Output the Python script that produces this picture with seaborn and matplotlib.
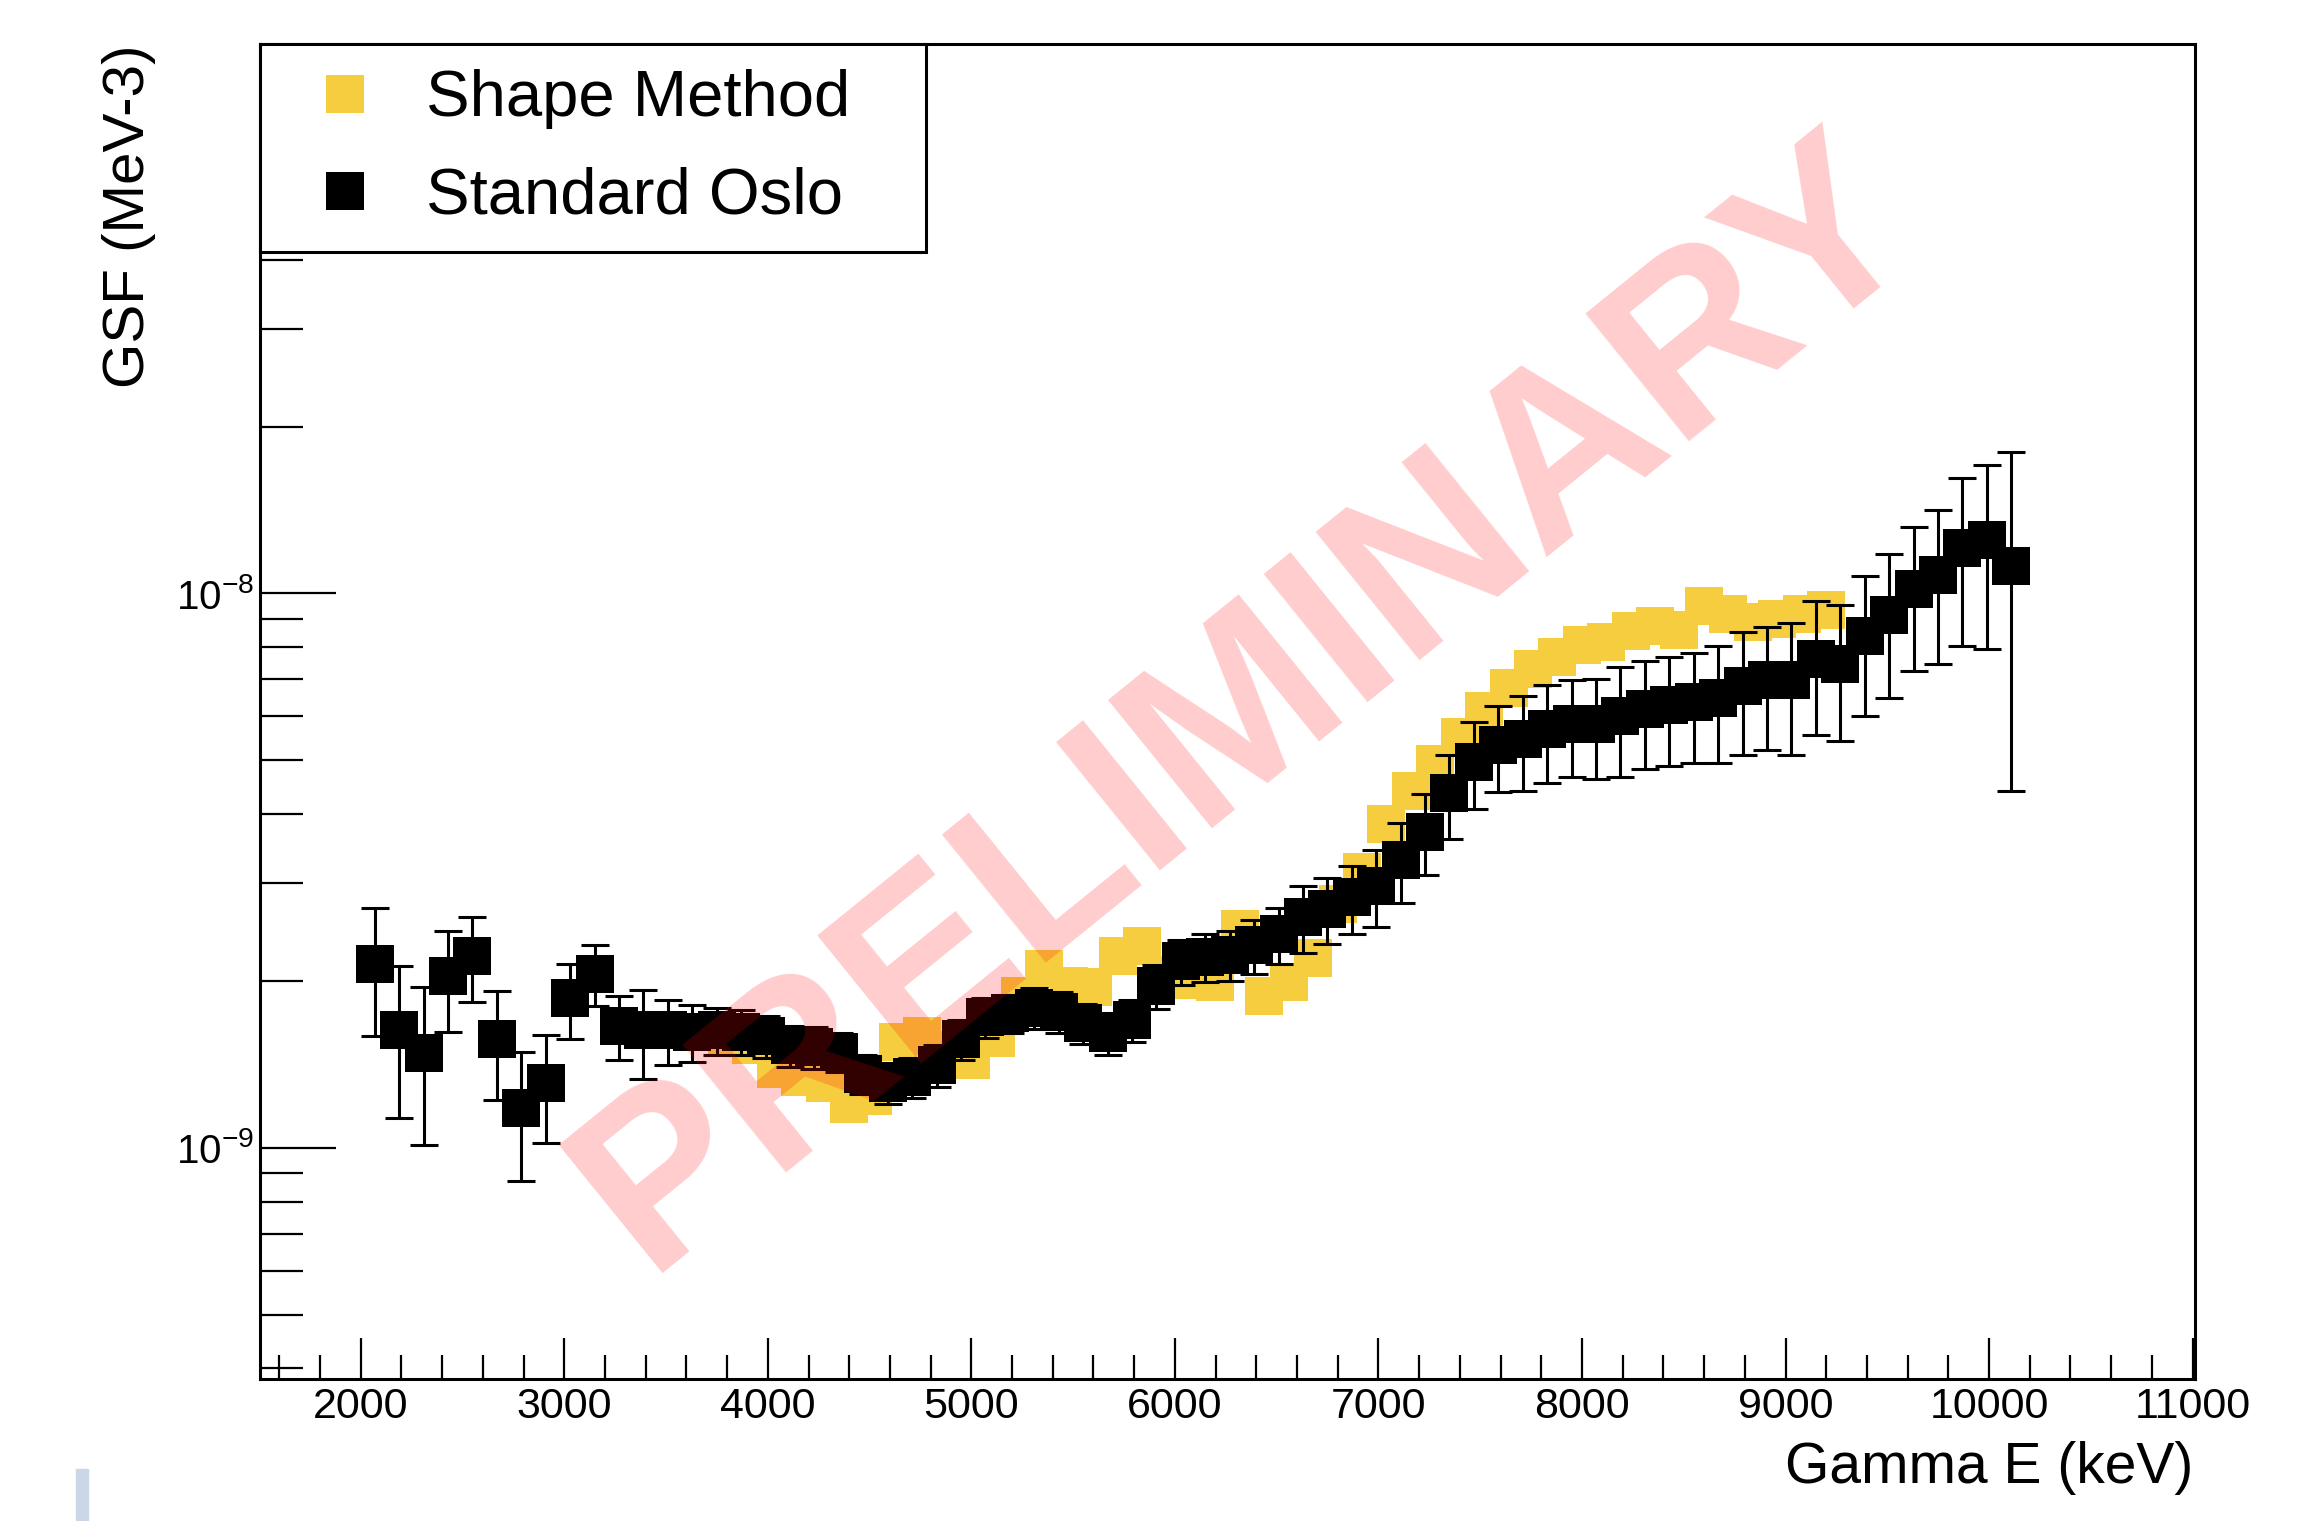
import numpy as np
import pandas as pd
import seaborn as sns
import matplotlib.pyplot as plt
from matplotlib.lines import Line2D
from matplotlib.patches import Rectangle
from matplotlib.ticker import MultipleLocator, FixedLocator, NullFormatter

# Standard Oslo (black squares with errors), GSF in units of 1e-9 MeV^-3
oslo_e = [2069, 2189, 2309, 2429, 2549, 2669, 2789, 2909, 3029, 3149,
          3269, 3389, 3509, 3629, 3749, 3869, 3989, 4109, 4229, 4349,
          4469, 4589, 4709, 4829, 4949, 5069, 5189, 5309, 5429, 5549,
          5669, 5789, 5909, 6029, 6149, 6269, 6389, 6509, 6629, 6749,
          6869, 6989, 7109, 7229, 7349, 7469, 7589, 7709, 7829, 7949,
          8069, 8189, 8309, 8429, 8549, 8669, 8789, 8909, 9029, 9149,
          9269, 9389, 9509, 9629, 9749, 9869, 9989, 10109]
oslo_gsf = [2.15, 1.63, 1.48, 2.04, 2.22, 1.57, 1.18, 1.31, 1.86, 2.06,
            1.66, 1.63, 1.63, 1.62, 1.63, 1.62, 1.59, 1.53, 1.52, 1.49,
            1.36, 1.31, 1.34, 1.41, 1.57, 1.72, 1.75, 1.79, 1.76, 1.68,
            1.61, 1.70, 1.96, 2.17, 2.21, 2.23, 2.32, 2.43, 2.61, 2.70,
            2.83, 2.97, 3.31, 3.72, 4.36, 4.97, 5.32, 5.47, 5.70, 5.82,
            5.82, 6.02, 6.20, 6.28, 6.38, 6.49, 6.82, 6.97, 6.97, 7.63,
            7.47, 8.37, 9.13, 10.2, 10.8, 12.1, 12.5, 11.2]
oslo_err = [0.56, 0.50, 0.47, 0.42, 0.39, 0.35, 0.31, 0.29, 0.29, 0.26,
            0.22, 0.30, 0.22, 0.19, 0.16, 0.15, 0.14, 0.13, 0.13, 0.12,
            0.11, 0.11, 0.11, 0.12, 0.13, 0.14, 0.14, 0.15, 0.15, 0.14,
            0.14, 0.15, 0.18, 0.20, 0.22, 0.23, 0.26, 0.28, 0.36, 0.37,
            0.40, 0.47, 0.55, 0.62, 0.75, 0.89, 0.94, 1.06, 1.14, 1.15,
            1.20, 1.36, 1.37, 1.40, 1.44, 1.55, 1.70, 1.74, 1.86, 2.08,
            2.05, 2.37, 2.66, 2.96, 3.33, 4.05, 4.55, 6.80]

# Shape method (yellow squares)
shape_e = [3799, 3919, 4039, 4159, 4279, 4399, 4519, 4639, 4759, 4879,
           4999, 5119, 5239, 5359, 5479, 5599, 5719, 5839, 5959, 6079,
           6199, 6319, 6439, 6559, 6679, 6799, 6919, 7039, 7159, 7279,
           7399, 7519, 7639, 7759, 7879, 7999, 8119, 8239, 8359, 8479,
           8599, 8719, 8839, 8959, 9079, 9199]
shape_gsf = [1.60, 1.53, 1.39, 1.34, 1.31, 1.20, 1.24, 1.55, 1.59, 1.50,
             1.44, 1.58, 1.88, 2.10, 1.96, 1.95, 2.22, 2.31, 2.05, 2.01,
             1.99, 2.48, 1.88, 1.99, 2.20, 2.75, 3.15, 3.84, 4.41, 4.93,
             5.52, 6.15, 6.74, 7.32, 7.67, 8.06, 8.19, 8.54, 8.72, 8.61,
             9.51, 9.20, 8.90, 9.01, 9.20, 9.32]

# y ticks inside the visible range
y_major = [1e-9, 1e-8]
y_minor = [4e-10, 5e-10, 6e-10, 7e-10, 8e-10, 9e-10,
           2e-9, 3e-9, 4e-9, 5e-9, 6e-9, 7e-9, 8e-9, 9e-9,
           2e-8, 3e-8, 4e-8, 5e-8, 6e-8, 7e-8, 8e-8, 9e-8]

YEL = "#f6cd3f"
SQ = 748  # square marker area (pt^2), ~38 px side

oslo = pd.DataFrame({"E": oslo_e,
                     "gsf": np.array(oslo_gsf) * 1e-9,
                     "err": np.array(oslo_err) * 1e-9})
shape = pd.DataFrame({"E": shape_e, "gsf": np.array(shape_gsf) * 1e-9})

sns.set_style("ticks")
plt.rcParams["font.family"] = ["Liberation Sans", "DejaVu Sans"]
plt.rcParams["mathtext.fontset"] = "custom"
plt.rcParams["mathtext.rm"] = "Liberation Sans"
plt.rcParams["mathtext.it"] = "Liberation Sans:italic"
plt.rcParams["mathtext.bf"] = "Liberation Sans:bold"
for key in ["text.color", "axes.labelcolor", "xtick.color", "ytick.color",
            "axes.edgecolor"]:
    plt.rcParams[key] = "black"

fig = plt.figure(figsize=(23.05, 15.21), dpi=100)
ax = fig.add_axes([0.1128, 0.0934, 0.8395, 0.8777])

sns.scatterplot(data=shape, x="E", y="gsf", marker="s", s=SQ, color=YEL,
                linewidth=0, ax=ax, zorder=2, legend=False)
ax.errorbar(oslo["E"], oslo["gsf"], yerr=oslo["err"], fmt="none",
            ecolor="black", elinewidth=2.2, capsize=10, capthick=2.2, zorder=3)
sns.scatterplot(data=oslo, x="E", y="gsf", marker="s", s=SQ, color="black",
                linewidth=0, ax=ax, zorder=4, legend=False)

ax.set_yscale("log")
ax.set_xlim(1505, 11012)
ax.set_ylim(3.83e-10, 9.8e-8)
ax.xaxis.label.set_visible(False)
ax.yaxis.label.set_visible(False)

ax.xaxis.set_major_locator(MultipleLocator(1000))
ax.xaxis.set_minor_locator(MultipleLocator(200))
ax.yaxis.set_major_locator(FixedLocator(y_major))
ax.yaxis.set_minor_locator(FixedLocator(y_minor))
ax.yaxis.set_major_formatter(plt.FuncFormatter(
    lambda v, pos: r"$10^{%d}$" % round(np.log10(v))))
ax.yaxis.set_minor_formatter(NullFormatter())

ax.tick_params(axis="x", which="major", direction="in", length=29.5, width=1.6,
               labelsize=31, pad=6, top=False, color="black", labelcolor="black")
ax.tick_params(axis="x", which="minor", direction="in", length=17, width=1.6,
               top=False, color="black")
ax.tick_params(axis="y", which="major", direction="in", length=55, width=1.6,
               labelsize=29, pad=4, right=False, color="black", labelcolor="black")
ax.tick_params(axis="y", which="minor", direction="in", length=31, width=1.6,
               right=False, color="black")
for sp in ax.spines.values():
    sp.set_linewidth(2.2)
    sp.set_color("black")
    sp.set_visible(True)

handles = [Line2D([], [], ls="none", marker="s", ms=27.4, mfc=YEL, mew=0),
           Line2D([], [], ls="none", marker="s", ms=27.4, mfc="black", mew=0)]
leg = ax.legend(handles, ["Shape Method", "Standard Oslo"], loc="upper left",
                bbox_to_anchor=(0, 0.845, 0.344, 0.155), mode="expand",
                borderaxespad=0, fontsize=47, frameon=True, fancybox=False,
                framealpha=1, edgecolor="black", borderpad=0.39,
                labelspacing=0.57, handlelength=1.81, handletextpad=0.34)
leg.get_frame().set_linewidth(2.2)
leg.set_zorder(6)
for t in leg.get_texts():
    t.set_color("black")

fig.text(129 / 2305, 1 - 44 / 1521, "GSF (MeV-3)", rotation=90,
         ha="center", va="top", fontsize=42, color="black")
fig.text(2193 / 2305, 1 - 1468 / 1521, "Gamma E (keV)", ha="right",
         va="center", fontsize=41, color="black")

# watermark
fig.text(0.5415, 0.5352, "PRELIMINARY", rotation=39, ha="center", va="center",
         fontsize=173, fontweight="bold", color="red", alpha=0.2, zorder=10)

# small screenshot artefact bottom-left
fig.patches.append(Rectangle((76 / 2305, 0), 12 / 2305, 52 / 1521,
                             transform=fig.transFigure, color="#cbd7e7"))

fig.savefig("out.png", dpi=100)
